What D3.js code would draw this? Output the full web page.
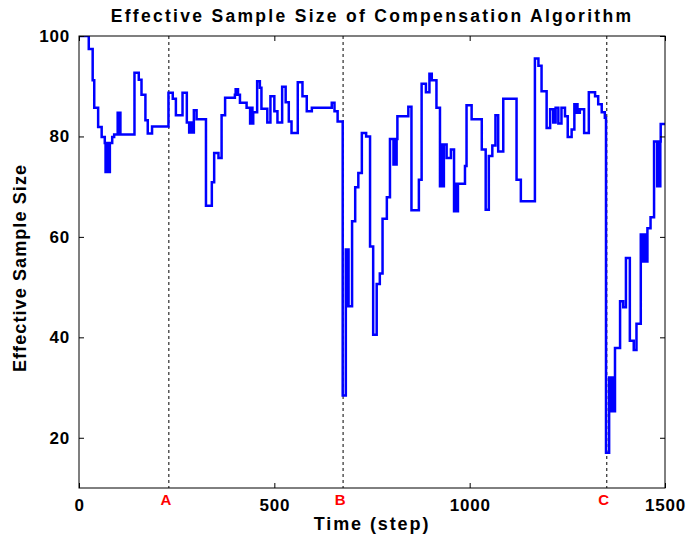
<!DOCTYPE html>
<html>
<head>
<meta charset="utf-8">
<script src="https://cdn.jsdelivr.net/npm/d3@7"></script>
<style>
  body { margin: 0; background: #fff; }
  text { font-family: "Liberation Sans", Arial, sans-serif; font-weight: bold; }
</style>
</head>
<body>
<script>
// step times at which the ESS changes, and the value it takes from there on
var changeSteps = [0, 25, 35, 39, 49, 58, 66, 68, 70, 71, 73, 74, 76, 77, 79, 85, 90,
  99, 101, 102, 104, 105, 106, 142, 153, 160, 170, 176, 187, 229, 240, 248, 265, 276,
  282, 284, 286, 288, 290, 292, 293, 294, 301, 325, 340, 346, 357, 365, 374,
  399, 401, 403, 405, 407, 412, 429, 438, 440, 441, 443, 444, 446, 456, 463, 467,
  482, 490, 500, 508, 520, 529, 537, 544, 560, 572, 583, 596, 647, 654, 662,
  675, 683, 684, 686, 687, 689, 690, 699, 707, 715, 724, 735, 745, 753, 762, 770,
  777, 788, 796, 805, 807, 808, 810, 811, 813, 815, 843, 851, 870, 877, 888, 897,
  903, 915, 924, 926, 927, 929, 930, 932, 933, 934, 941, 952, 960, 962, 963, 965,
  966, 968, 969, 970, 988, 992, 1005, 1031, 1041, 1049, 1058, 1066, 1073, 1086,
  1120, 1131, 1167, 1176, 1184, 1197, 1206, 1214, 1220, 1227, 1235, 1244, 1251,
  1261, 1268, 1270, 1271, 1273, 1274, 1276, 1282, 1293, 1305, 1321, 1329, 1338,
  1346, 1349, 1357, 1359, 1360, 1362, 1363, 1365, 1366, 1368, 1372, 1385, 1393,
  1400, 1410, 1420, 1427, 1438, 1444, 1446, 1447, 1449, 1450, 1452, 1453, 1455,
  1463, 1472, 1480, 1482, 1483, 1485, 1486, 1488, 1489, 1500];

var essValues = [100, 97.4, 91.2, 85.7, 81.9, 79.9, 78.7, 72.9, 78.7, 72.9, 78.7, 72.9, 78.7, 72.9, 78.7, 79.9, 80.4,
  84.7, 80.4, 84.7, 80.4, 84.7, 80.4, 92.7, 91.3, 88.3, 83.2, 80.6, 82.0, 88.7, 87.5, 84.2, 88.7, 82.8,
  80.8, 82.8, 80.8, 82.8, 80.8, 82.8, 80.8, 85.2, 83.4, 66.2, 70.9, 76.7, 75.7, 84.2, 87.7,
  88.3, 89.4, 88.3, 89.4, 88.3, 86.7, 85.7, 82.6, 85.7, 82.6, 85.7, 82.6, 84.8, 91.0, 89.7, 85.5,
  82.8, 88.0, 85.0, 82.8, 89.9, 86.8, 83.0, 80.7, 90.8, 88.0, 85.0, 85.7, 86.7, 85.0, 83.0,
  28.4, 57.5, 46.2, 57.5, 46.2, 57.5, 46.2, 63.1, 69.9, 72.7, 80.7, 80.0, 58.1, 40.5, 50.6, 52.7,
  63.6, 67.9, 79.5, 74.4, 79.5, 74.4, 79.5, 74.4, 79.5, 84.0, 85.9, 65.3, 71.4, 90.5, 88.8, 92.5,
  91.2, 85.7, 70.1, 78.4, 70.1, 78.4, 70.1, 78.4, 70.1, 78.4, 75.7, 77.4, 65.1, 70.6, 65.1, 70.6,
  65.1, 70.6, 65.1, 70.6, 74.1, 86.2, 83.4, 77.4, 65.4, 76.1, 78.2, 84.2, 77.0, 87.5,
  71.4, 67.1, 95.5, 94.1, 89.0, 81.7, 85.4, 82.8, 85.7, 82.6, 85.7, 84.0, 79.9,
  81.4, 86.4, 84.7, 86.4, 84.7, 86.4, 84.7, 85.4, 80.7, 88.8, 88.0, 86.4, 84.8,
  83.7, 17.0, 32.0, 25.3, 32.0, 25.3, 32.0, 25.3, 32.0, 25.3, 37.9, 47.2, 46.0,
  55.8, 39.3, 37.5, 42.7, 60.5, 55.1, 60.5, 55.1, 60.5, 55.1, 60.5, 55.1, 61.7,
  63.9, 79.0, 70.1, 79.0, 70.1, 79.0, 70.1, 79.0, 82.5, 82.5];

var markerNames = ["A", "B", "C"];
var markerSteps = [230, 676, 1351];

var xTicks = [0, 500, 1000, 1500];
var yTicks = [20, 40, 60, 80, 100];

var width = 689, height = 543;
var margin = {top: 36, right: 24, bottom: 55, left: 79};
var plotW = width - margin.left - margin.right;
var plotH = height - margin.top - margin.bottom;

var svg = d3.select("body").append("svg")
  .attr("width", width)
  .attr("height", height);

var x = d3.scaleLinear().domain([0, 1500]).range([0, plotW]);
var y = d3.scaleLinear().domain([10, 100]).range([plotH, 0]);

var g = svg.append("g").attr("transform", "translate(" + margin.left + "," + margin.top + ")");

// clip so the line stays inside the box
g.append("clipPath").attr("id", "plotclip")
  .append("rect").attr("width", plotW).attr("height", plotH);

var series = changeSteps.map(function(s, i) { return {t: s, v: essValues[i]}; });

var line = d3.line()
  .x(function(d) { return x(d.t); })
  .y(function(d) { return y(d.v); })
  .curve(d3.curveStepAfter);

// dashed event markers
g.selectAll(".marker")
  .data(markerSteps)
  .enter().append("line")
  .attr("class", "marker")
  .attr("x1", function(d) { return x(d); })
  .attr("x2", function(d) { return x(d); })
  .attr("y1", 0)
  .attr("y2", plotH)
  .attr("stroke", "#000")
  .attr("stroke-width", 1)
  .attr("stroke-dasharray", "3,3");

g.append("path")
  .datum(series)
  .attr("d", line)
  .attr("fill", "none")
  .attr("stroke", "#0000ff")
  .attr("stroke-width", 2.5)
  .attr("stroke-linejoin", "miter")
  .attr("clip-path", "url(#plotclip)");

// axes, matlab style: ticks pointing in, box all round
var tickLen = 5;
function styleAxis(sel) {
  sel.select(".domain").remove();
  sel.selectAll(".tick line").attr("stroke", "#000");
  sel.selectAll(".tick text")
    .attr("font-size", 17)
    .attr("letter-spacing", "0.8px")
    .attr("fill", "#000");
}

g.append("g")
  .attr("transform", "translate(0," + plotH + ")")
  .call(d3.axisBottom(x).tickValues(xTicks).tickSize(-tickLen).tickPadding(11).tickFormat(d3.format("d")))
  .call(styleAxis);

g.append("g")
  .call(d3.axisTop(x).tickValues(xTicks).tickSize(-tickLen).tickFormat(""))
  .call(styleAxis);

g.append("g")
  .call(d3.axisLeft(y).tickValues(yTicks).tickSize(-tickLen).tickPadding(9).tickFormat(d3.format("d")))
  .call(styleAxis);

g.append("g")
  .attr("transform", "translate(" + plotW + ",0)")
  .call(d3.axisRight(y).tickValues(yTicks).tickSize(-tickLen).tickFormat(""))
  .call(styleAxis);

g.append("rect")
  .attr("width", plotW)
  .attr("height", plotH)
  .attr("fill", "none")
  .attr("stroke", "#000")
  .attr("stroke-width", 1);

// red event letters under the axis
g.selectAll(".mlabel")
  .data(markerSteps)
  .enter().append("text")
  .attr("class", "mlabel")
  .attr("x", function(d) { return x(d) - 3; })
  .attr("y", plotH + 17)
  .attr("text-anchor", "middle")
  .attr("font-size", 15)
  .attr("fill", "#ff0000")
  .text(function(d, i) { return markerNames[i]; });

svg.append("text")
  .attr("x", margin.left + plotW / 2)
  .attr("y", 22)
  .attr("text-anchor", "middle")
  .attr("font-size", 17.5)
  .attr("letter-spacing", "2.3px")
  .text("Effective Sample Size of Compensation Algorithm");

svg.append("text")
  .attr("x", margin.left + plotW / 2)
  .attr("y", 530)
  .attr("text-anchor", "middle")
  .attr("font-size", 18)
  .attr("letter-spacing", "1.9px")
  .text("Time (step)");

svg.append("text")
  .attr("transform", "translate(26," + (margin.top + plotH / 2 + 6) + ") rotate(-90)")
  .attr("text-anchor", "middle")
  .attr("font-size", 18)
  .attr("letter-spacing", "1.1px")
  .text("Effective Sample Size");
</script>
</body>
</html>
